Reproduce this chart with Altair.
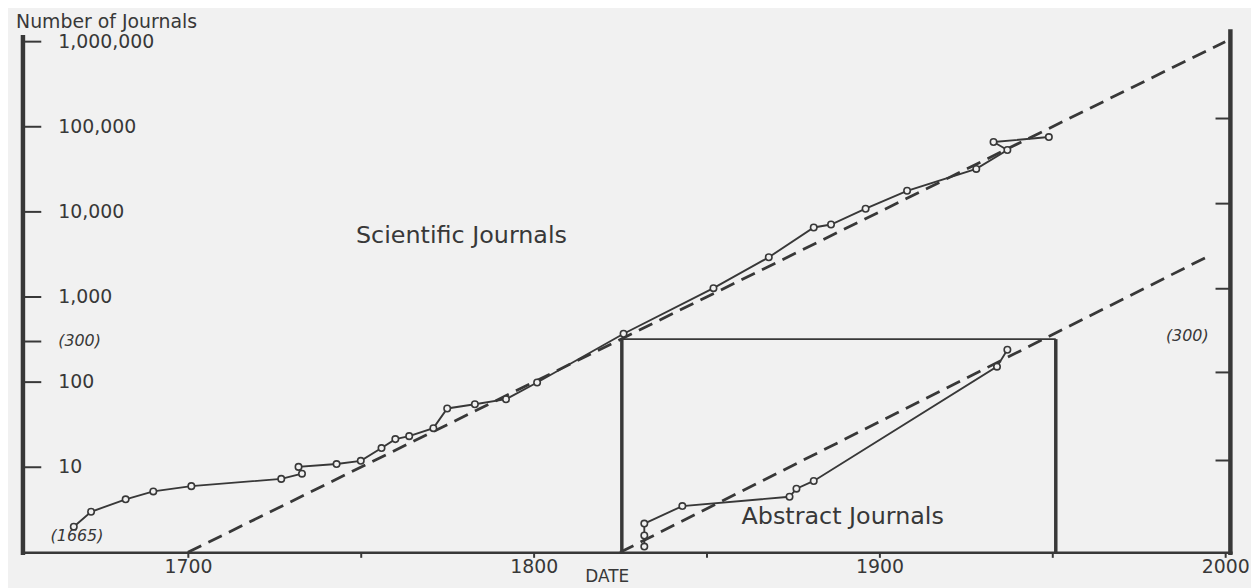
import altair as alt
import pandas as pd

# ---- data ----
sci_year = [1667, 1672, 1682, 1690, 1701, 1727, 1733, 1732, 1743, 1750, 1756, 1760, 1764,
            1771, 1775, 1783, 1792, 1801, 1826, 1852, 1868, 1881, 1886, 1896, 1908, 1928,
            1937, 1933, 1949]
sci_value = [2.0, 3.0, 4.2, 5.2, 6.0, 7.3, 8.4, 10.1, 10.9, 11.9, 16.8, 21.4, 23.2,
             28.8, 49, 55, 63, 99, 370, 1270, 2930, 6560, 7100, 10900, 17700, 32000,
             53400, 66200, 75700]

abs_year = [1832, 1832, 1832, 1843, 1874, 1876, 1881, 1934, 1937]
abs_value = [1.17, 1.58, 2.18, 3.5, 4.5, 5.6, 6.9, 152, 240]

sci_trend_year = [1700, 2000]
sci_trend_value = [1, 1000000]
abs_trend_year = [1825, 1995]
abs_trend_value = [1, 3000]

y_tick_values = [1000000, 100000, 10000, 1000, 300, 100, 10]
y_tick_labels = ["1,000,000", "100,000", "10,000", "1,000", "(300)", "100", "10"]
right_tick_values = [125000, 12500, 1250, 130, 12]
x_tick_values = [1700, 1750, 1800, 1850, 1900, 1950, 2000]

box_left, box_right, box_top = 1825.5, 1951, 320
axis_left, axis_right = 1652.3, 2001.5

INK = "#383838"
PAPER = "#f1f1f1"
FONT = "DejaVu Sans"

xs = alt.Scale(domain=[1652, 2002], nice=False, zero=False)
ys = alt.Scale(type="log", domain=[1, 1000000], nice=False)

xaxis = alt.Axis(values=x_tick_values,
                 labelExpr="datum.value % 100 == 0 ? '' + datum.value : ''",
                 title=None, grid=False, domainColor=INK, domainWidth=2.5,
                 tickColor=INK, tickWidth=2, tickSize=5, labelFont=FONT,
                 labelFontSize=19, labelColor=INK, labelPadding=0,
                 labelFlush=False, labelOverlap=False, labelBound=False)


def X(field="x"):
    return alt.X(f"{field}:Q", scale=xs, axis=xaxis)


def Y(field="y"):
    return alt.Y(f"{field}:Q", scale=ys, axis=None)


def X2(field="x2"):
    return alt.X2(f"{field}:Q")


def Y2(field="y2"):
    return alt.Y2(f"{field}:Q")


# series tables
sci = pd.DataFrame({"x": sci_year, "y": sci_value, "i": range(len(sci_year))})
ab = pd.DataFrame({"x": abs_year, "y": abs_value, "i": range(len(abs_year))})
sci_tr = pd.DataFrame({"x": sci_trend_year, "y": sci_trend_value})
ab_tr = pd.DataFrame({"x": abs_trend_year, "y": abs_trend_value})

# frame segments
thick_axes = pd.DataFrame({
    "x": [axis_left, axis_right], "x2": [axis_left, axis_right],
    "y": [0.93, 0.93], "y2": [1200000, 1400000]})
box_thick = pd.DataFrame({
    "x": [box_left, box_right], "x2": [box_left, box_right],
    "y": [1, 1], "y2": [box_top, box_top]})
box_thin = pd.DataFrame({"x": [box_left], "x2": [box_right], "y": [box_top], "y2": [box_top]})
left_ticks = pd.DataFrame({"x": [axis_left] * len(y_tick_values),
                           "x2": [1657.6] * len(y_tick_values),
                           "y": y_tick_values, "y2": y_tick_values})
right_ticks = pd.DataFrame({"x": [1997.2] * len(right_tick_values),
                            "x2": [axis_right] * len(right_tick_values),
                            "y": right_tick_values, "y2": right_tick_values})

seg = lambda df, w: alt.Chart(df).mark_rule(color=INK, strokeWidth=w).encode(
    x=X(), x2=X2(), y=Y(), y2=Y2())

layers = [
    seg(thick_axes, 4.5),
    seg(box_thick, 3.5),
    seg(box_thin, 1.6),
    seg(left_ticks, 2),
    seg(right_ticks, 2),
    alt.Chart(sci_tr).mark_line(color=INK, strokeWidth=2.8, strokeDash=[15, 8]).encode(x=X(), y=Y()),
    alt.Chart(ab_tr).mark_line(color=INK, strokeWidth=2.8, strokeDash=[15, 8]).encode(x=X(), y=Y()),
    alt.Chart(sci).mark_line(color=INK, strokeWidth=1.9).encode(x=X(), y=Y(), order="i:Q"),
    alt.Chart(ab).mark_line(color=INK, strokeWidth=1.9).encode(x=X(), y=Y(), order="i:Q"),
    alt.Chart(sci).mark_point(shape="circle", filled=True, fill=PAPER, stroke=INK,
                              strokeWidth=1.6, size=42, opacity=1).encode(x=X(), y=Y()),
    alt.Chart(ab).mark_point(shape="circle", filled=True, fill=PAPER, stroke=INK,
                             strokeWidth=1.6, size=42, opacity=1).encode(x=X(), y=Y()),
]

# left axis labels
ylab = pd.DataFrame({"x": [1662.5] * len(y_tick_values), "y": y_tick_values, "t": y_tick_labels})
ylab["italic"] = ylab["t"].str.startswith("(")
layers.append(alt.Chart(ylab[~ylab["italic"]]).mark_text(
    align="left", baseline="middle", font=FONT, fontSize=19, color=INK).encode(
    x=X(), y=Y(), text="t:N"))
layers.append(alt.Chart(ylab[ylab["italic"]]).mark_text(
    align="left", baseline="middle", font=FONT, fontSize=16, fontStyle="italic", color=INK).encode(
    x=X(), y=Y(), text="t:N"))

# annotations
ann_italic = pd.DataFrame({"x": [1660.3, 1995.2], "y": [1.54, 350], "t": ["(1665)", "(300)"],
                           "a": ["left", "right"]})
layers.append(alt.Chart(ann_italic[ann_italic.a == "left"]).mark_text(
    align="left", baseline="middle", font=FONT, fontSize=16, fontStyle="italic", color=INK).encode(
    x=X(), y=Y(), text="t:N"))
layers.append(alt.Chart(ann_italic[ann_italic.a == "right"]).mark_text(
    align="right", baseline="middle", font=FONT, fontSize=16, fontStyle="italic", color=INK).encode(
    x=X(), y=Y(), text="t:N"))

ann = pd.DataFrame({"x": [1748.6, 1860.1, 1650.3], "y": [5150, 2.63, 1700000],
                    "t": ["Scientific Journals", "Abstract Journals", "Number of Journals"]})
layers.append(alt.Chart(ann.iloc[:2]).mark_text(
    align="left", baseline="middle", font=FONT, fontSize=24, color=INK).encode(
    x=X(), y=Y(), text="t:N"))
layers.append(alt.Chart(ann.iloc[2:]).mark_text(
    align="left", baseline="middle", font=FONT, fontSize=19, color=INK).encode(
    x=X(), y=Y(), text="t:N"))

date = pd.DataFrame({"x": [1821.3], "y": [0.51], "t": ["DATE"]})
layers.append(alt.Chart(date).mark_text(
    align="center", baseline="middle", font=FONT, fontSize=17, color=INK).encode(
    x=X(), y=Y(), text="t:N"))

chart = alt.layer(*layers).properties(
    width=1218, height=514,
    padding={"left": 14, "top": 32, "right": 19, "bottom": 34},
    autosize=alt.AutoSizeParams(type="none"),
    background=PAPER,
).configure_view(stroke=None)

chart.save("out.html", embed_options={"renderer": "svg", "actions": False})
